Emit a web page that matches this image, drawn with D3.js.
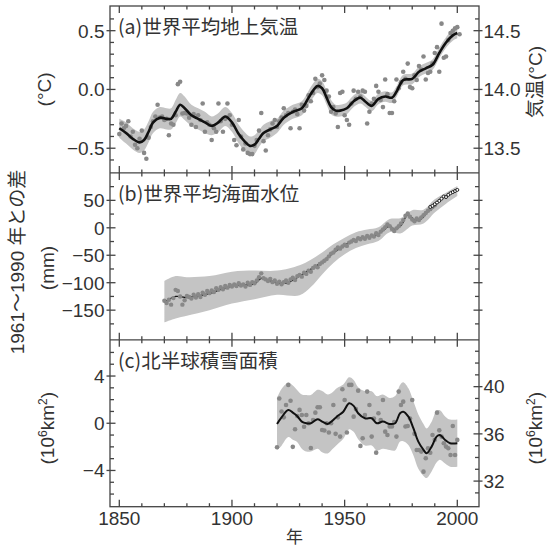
<!DOCTYPE html>
<html>
<head>
<meta charset="utf-8">
<script src="https://cdn.jsdelivr.net/npm/d3@7"></script>
<style>
  body { margin: 0; background: #fff; }
  svg { display: block; }
</style>
</head>
<body>
<div id="chart"></div>
<script>
// (a) global mean surface temperature, anomaly from 1961-1990 (°C)
const tempYears = d3.range(1850, 2002);
const tempAnom = [
  -0.38, -0.29, -0.33, -0.31, -0.27, -0.40, -0.36, -0.47, -0.50, -0.42,
  -0.35, -0.54, -0.59, -0.41, -0.32, -0.27, -0.23, -0.13, -0.24, -0.23,
  -0.26, -0.25, -0.39, -0.29, -0.30, -0.22, 0.045, 0.065, -0.205, -0.20,
  -0.205, -0.24, -0.30, -0.21, -0.32, -0.22, -0.26, -0.12, -0.36, -0.28,
  -0.30, -0.43, -0.33, -0.36, -0.12, -0.27, -0.36, -0.25, -0.12, -0.22,
  -0.30, -0.43, -0.475, -0.26, -0.40, -0.51, -0.46, -0.54, -0.55, -0.55,
  -0.48, -0.43, -0.35, -0.20, -0.44, -0.52, -0.39, -0.34, -0.29, -0.26,
  -0.32, -0.27, -0.24, -0.16, -0.22, -0.20, -0.33, -0.19, -0.17, -0.21,
  -0.33, -0.13, -0.18, -0.14, -0.05, -0.10, -0.03, 0.09, 0.02, 0.05,
  0.12, 0.08, -0.01, -0.06, -0.19, -0.15, -0.205, -0.32, -0.03, -0.02,
  -0.22, -0.26, -0.30, -0.12, -0.01, -0.08, -0.02, -0.06, -0.01, -0.02,
  -0.29, -0.19, -0.12, -0.08, 0.03, -0.02, -0.09, -0.15, 0.085, -0.04,
  -0.20, -0.20, -0.10, 0.085, 0.01, 0.06, 0.15, 0.09, 0.22, 0.02,
  0.01, 0.12, 0.08, 0.20, 0.17, 0.28, 0.085, 0.14, 0.15, 0.22,
  0.31, 0.36, 0.15, 0.56, 0.27, 0.28, 0.42, 0.48, 0.50, 0.52,
  0.53, 0.47
];
const tempSmoothYears = [1850, 1853, 1856, 1859, 1861, 1863, 1865, 1868, 1871, 1873,
  1875, 1877, 1879, 1882, 1885, 1888, 1891, 1894, 1897, 1900,
  1903, 1906, 1908, 1910, 1912, 1914, 1917, 1920, 1923, 1927,
  1931, 1934, 1936, 1938, 1940, 1942, 1944, 1946, 1948, 1951,
  1954, 1957, 1959, 1962, 1965, 1968, 1971, 1973, 1976, 1980,
  1983, 1986, 1989, 1992, 1995, 1998, 2000];
const tempSmooth = [-0.33, -0.37, -0.42, -0.45, -0.43, -0.36, -0.28, -0.24, -0.25, -0.25,
  -0.19, -0.13, -0.16, -0.22, -0.25, -0.28, -0.31, -0.28, -0.23, -0.28,
  -0.38, -0.45, -0.48, -0.47, -0.42, -0.37, -0.34, -0.31, -0.24, -0.19,
  -0.16, -0.07, -0.01, 0.03, 0.01, -0.07, -0.15, -0.18, -0.18, -0.16,
  -0.10, -0.07, -0.10, -0.14, -0.08, -0.06, -0.07, -0.02, 0.08, 0.09,
  0.15, 0.18, 0.21, 0.31, 0.40, 0.46, 0.48];
const tempUnc = [0.08, 0.09, 0.09, 0.09, 0.09, 0.09, 0.09, 0.09, 0.09, 0.09,
  0.10, 0.10, 0.10, 0.09, 0.09, 0.09, 0.08, 0.08, 0.08, 0.08,
  0.08, 0.08, 0.08, 0.08, 0.07, 0.07, 0.07, 0.06, 0.06, 0.06,
  0.06, 0.06, 0.06, 0.06, 0.06, 0.06, 0.06, 0.05, 0.05, 0.05,
  0.05, 0.05, 0.045, 0.045, 0.045, 0.045, 0.045, 0.045, 0.045, 0.045,
  0.045, 0.045, 0.045, 0.045, 0.045, 0.045, 0.045];

// (b) global mean sea level, anomaly from 1961-1990 (mm)
const seaYears = d3.range(1870, 1991);
const seaLevel = [
  -133, -137, -131, -140, -128, -113, -115, -125, -140, -132,
  -124, -126, -129, -122, -127, -121, -126, -118, -122, -115,
  -119, -114, -117, -110, -113, -108, -112, -106, -109, -104,
  -107, -103, -106, -101, -105, -103, -107, -100, -104, -99,
  -101, -96, -90, -83, -92, -94, -97, -93, -99, -96,
  -102, -98, -103, -99, -96, -100, -94, -91, -95, -88,
  -86, -89, -82, -84, -78, -80, -73, -70, -72, -66,
  -63, -60, -57, -52, -47, -45, -40, -36, -38, -34,
  -31, -33, -27, -25, -22, -24, -19, -21, -17, -20,
  -15, -18, -14, -16, -10, -13, -7, -3, 1, 6,
  3, -2, -6, -1, 3, 8, 14, 22, 26, 20,
  15, 12, 17, 14, 19, 23, 27, 31, 34, 38,
  41
];
const seaSmoothYears = [1870, 1875, 1880, 1885, 1890, 1895, 1900, 1905, 1910, 1913,
  1916, 1920, 1924, 1928, 1932, 1936, 1940, 1944, 1948, 1952,
  1956, 1960, 1964, 1968, 1970, 1972, 1975, 1978, 1981, 1984,
  1987, 1990];
const seaSmooth = [-136, -125, -127, -124, -120, -112, -106, -104, -102, -92,
  -95, -100, -101, -93, -83, -73, -63, -49, -37, -27,
  -20, -17, -13, -2, 4, -3, 4, 24, 15, 16,
  30, 42];
const satYears = [1988, 1989, 1990, 1991, 1992, 1993, 1994, 1995, 1996, 1997, 1998, 1999, 2000];
const satLevel = [38, 40, 43, 46, 49, 53, 57, 56, 60, 63, 65, 67, 69];
const seaBandYears = [1870, 1875, 1880, 1890, 1900, 1910, 1920, 1930, 1935, 1940,
  1945, 1950, 1955, 1960, 1965, 1970, 1975, 1980, 1985, 1990, 1995, 2000];
const seaBandHigh = [-97, -88, -90, -88, -80, -78, -78, -68, -58, -45,
  -30, -18, -8, -3, 1, 16, 18, 32, 33, 52, 64, 76];
const seaBandLow = [-172, -165, -160, -150, -138, -130, -122, -123, -108, -85,
  -64, -48, -37, -30, -24, -8, -10, 4, 8, 28, 44, 58];

// (c) northern hemisphere snow cover, anomaly (10^6 km^2)
const snowYears = d3.range(1920, 2001);
const snowAnom = [
  -2.03, 2.1, 1.0, 0.5, 1.55, 3.25, 1.9, -2.0, -0.51, 0.62,
  1.13, 0.70, -0.3, 0.70, 0.0, -2.1, 0.28, 0.90, 1.36, 1.36,
  -0.57, -0.62, 0.0, -0.79, 0.0, 1.55, -0.9, 0.5, -1.13, 2.88,
  1.97, -0.79, 3.25, 3.25, 0.56, 1.2, 2.76, -1.92, -1.27, 0.7,
  2.68, 1.55, -1.13, 0.4, -2.49, 0.85, 0.28, 1.97, -0.71, -0.99,
  -0.28, -0.28, 0.1, -1.13, 2.68, 1.55, 1.83, -0.28, -0.23, 0.4,
  1.97, -0.9, -2.26, -2.26, -2.40, -4.10, -2.97, -2.12, -2.5, -0.99,
  -1.4, 0.90, -0.6, -1.13, -1.69, -1.98, -2.12, -2.69, -0.23, -2.69,
  -1.41
];
const snowSmoothYears = [1920, 1922, 1925, 1927, 1929, 1931, 1933, 1935, 1938, 1940,
  1942.5, 1944.5, 1946.5, 1949.4, 1952, 1954, 1956, 1959, 1962, 1964.3,
  1967, 1970, 1972.4, 1974.6, 1976, 1978.3, 1980.5, 1982.7, 1985, 1986.4,
  1988.6, 1990.8, 1992.3, 1994.6, 1996.8, 2000];
const snowSmooth = [-0.06, 0.5, 1.13, 0.9, 0.6, 0.14, 0.0, 0.0, 0.34, 0.14,
  -0.06, 0.2, 0.56, 0.98, 1.69, 1.47, 0.85, 0.42, 0.42, 0.0,
  0.14, -0.06, 0.0, 0.85, 0.98, 0.56, -0.42, -1.56, -2.26, -2.54,
  -1.98, -1.13, -0.99, -1.42, -1.69, -1.69];
const snowUnc = [2.2, 2.4, 2.3, 2.3, 2.2, 2.3, 2.4, 2.4, 2.5, 2.6,
  2.5, 2.4, 2.4, 2.3, 2.2, 2.2, 2.2, 2.3, 2.3, 2.3,
  2.3, 2.2, 2.3, 2.4, 2.5, 2.4, 2.3, 2.3, 2.2, 2.1,
  2.1, 2.2, 2.1, 2.0, 2.0, 2.0];

// tick labels
const tempLeftLabels = [-0.5, 0.0, 0.5];
const tempRightLabels = [13.5, 14.0, 14.5];
const seaLabels = [-150, -100, -50, 0, 50];
const snowLeftLabels = [-4, 0, 4];
const snowRightLabels = [32, 36, 40];
const yearLabels = [1850, 1900, 1950, 2000];
const tempAbsOffset = 14.0;
const snowAbsOffset = 36.9;

const width = 552, height = 549;
const frame = { left: 110, right: 479, top: 6, bottom: 506.7 };
const panelH = (frame.bottom - frame.top) / 3;
const tops = [0, 1, 2].map(i => frame.top + i * panelH);

const latin = "'Liberation Sans', Arial, 'Noto Sans CJK JP', sans-serif";
const cjk = "'Noto Sans CJK JP', sans-serif";
const textColor = '#333';
const axisColor = '#444';
const dotColor = '#888';
const bandColor = '#c4c4c4';

const x = d3.scaleLinear().domain([1850, 2000]).range([119.3, 457.3]);
const yA = d3.scaleLinear().domain([-0.71, 0.71]).range([tops[0] + panelH, tops[0]]);
const yB = d3.scaleLinear().domain([-204, 100]).range([tops[1] + panelH, tops[1]]);
const yC = d3.scaleLinear().domain([-7.07, 7.07]).range([tops[2] + panelH, tops[2]]);

const svg = d3.select('#chart')
  .append('svg')
  .attr('width', width)
  .attr('height', height);

// clip paths, one per panel
const defs = svg.append('defs');
tops.forEach((t, i) => {
  defs.append('clipPath').attr('id', 'clip' + i)
    .append('rect')
    .attr('x', frame.left).attr('y', t)
    .attr('width', frame.right - frame.left).attr('height', panelH);
});

const zip = (xs, ys) => xs.map((d, i) => [d, ys[i]]);

// ---------- (a) temperature ----------
const gA = svg.append('g').attr('clip-path', 'url(#clip0)');
const tempSmoothData = tempSmoothYears.map((d, i) => ({ yr: d, v: tempSmooth[i], u: tempUnc[i] }));

gA.append('path')
  .datum(tempSmoothData)
  .attr('fill', bandColor)
  .attr('d', d3.area()
    .curve(d3.curveCatmullRom)
    .x(d => x(d.yr))
    .y0(d => yA(d.v - d.u))
    .y1(d => yA(d.v + d.u)));

gA.selectAll('circle')
  .data(zip(tempYears, tempAnom))
  .join('circle')
  .attr('cx', d => x(d[0]))
  .attr('cy', d => yA(d[1]))
  .attr('r', 2.3)
  .attr('fill', dotColor);

gA.append('path')
  .datum(tempSmoothData)
  .attr('fill', 'none')
  .attr('stroke', '#111')
  .attr('stroke-width', 2.6)
  .attr('d', d3.line().curve(d3.curveCatmullRom).x(d => x(d.yr)).y(d => yA(d.v)));

// ---------- (b) sea level ----------
const gB = svg.append('g').attr('clip-path', 'url(#clip1)');

gB.append('path')
  .datum(seaBandYears.map((d, i) => ({ yr: d, lo: seaBandLow[i], hi: seaBandHigh[i] })))
  .attr('fill', bandColor)
  .attr('d', d3.area()
    .curve(d3.curveCatmullRom)
    .x(d => x(d.yr))
    .y0(d => yB(d.lo))
    .y1(d => yB(d.hi)));

gB.append('path')
  .datum(zip(seaSmoothYears, seaSmooth))
  .attr('fill', 'none')
  .attr('stroke', '#111')
  .attr('stroke-width', 1.3)
  .attr('d', d3.line().curve(d3.curveCatmullRom).x(d => x(d[0])).y(d => yB(d[1])));

gB.selectAll('circle.tg')
  .data(zip(seaYears, seaLevel))
  .join('circle')
  .attr('class', 'tg')
  .attr('cx', d => x(d[0]))
  .attr('cy', d => yB(d[1]))
  .attr('r', 2.2)
  .attr('fill', dotColor);

gB.selectAll('circle.sat')
  .data(zip(satYears, satLevel))
  .join('circle')
  .attr('class', 'sat')
  .attr('cx', d => x(d[0]))
  .attr('cy', d => yB(d[1]))
  .attr('r', 1.5)
  .attr('fill', '#fff')
  .attr('stroke', '#111')
  .attr('stroke-width', 0.9);

// ---------- (c) snow cover ----------
const gC = svg.append('g').attr('clip-path', 'url(#clip2)');
const snowSmoothData = snowSmoothYears.map((d, i) => ({ yr: d, v: snowSmooth[i], u: snowUnc[i] }));

gC.append('path')
  .datum(snowSmoothData)
  .attr('fill', bandColor)
  .attr('d', d3.area()
    .curve(d3.curveCatmullRom)
    .x(d => x(d.yr))
    .y0(d => yC(d.v - d.u))
    .y1(d => yC(d.v + d.u)));

gC.selectAll('circle')
  .data(zip(snowYears, snowAnom))
  .join('circle')
  .attr('cx', d => x(d[0]))
  .attr('cy', d => yC(d[1]))
  .attr('r', 2.3)
  .attr('fill', dotColor);

gC.append('path')
  .datum(snowSmoothData)
  .attr('fill', 'none')
  .attr('stroke', '#111')
  .attr('stroke-width', 2)
  .attr('d', d3.line().curve(d3.curveCatmullRom).x(d => x(d.yr)).y(d => yC(d.v)));

// ---------- frame and ticks ----------
const axes = svg.append('g')
  .attr('stroke', axisColor)
  .attr('stroke-width', 1.3)
  .attr('fill', 'none');

axes.append('rect')
  .attr('x', frame.left).attr('y', frame.top)
  .attr('width', frame.right - frame.left)
  .attr('height', frame.bottom - frame.top);
[tops[1], tops[2]].forEach(t => {
  axes.append('line')
    .attr('x1', frame.left).attr('x2', frame.right)
    .attr('y1', t).attr('y2', t);
});

// year ticks on top and bottom of every panel
const yearTicks = d3.range(1850, 2001, 10);
tops.forEach(t => {
  yearTicks.forEach(yr => {
    const len = yr % 50 === 0 ? 7 : 3.5;
    axes.append('line').attr('x1', x(yr)).attr('x2', x(yr))
      .attr('y1', t).attr('y2', t + len);
    axes.append('line').attr('x1', x(yr)).attr('x2', x(yr))
      .attr('y1', t + panelH).attr('y2', t + panelH - len);
  });
});

// value ticks: majors cross the frame, minors point inward
function yTicks(scale, values, isMajor, side) {
  values.forEach(v => {
    const y = scale(v);
    const major = isMajor(v);
    if (side === 'left') {
      axes.append('line')
        .attr('x1', frame.left - (major ? 3.5 : 0)).attr('x2', frame.left + (major ? 5.5 : 4))
        .attr('y1', y).attr('y2', y);
    } else {
      axes.append('line')
        .attr('x1', frame.right + (major ? 3.5 : 0)).attr('x2', frame.right - (major ? 5.5 : 4))
        .attr('y1', y).attr('y2', y);
    }
  });
}
const near = (a, b) => Math.abs(a - b) < 1e-6;

const tempTicks = d3.range(-6, 7).map(i => i / 10);
yTicks(yA, tempTicks, v => tempLeftLabels.some(l => near(l, v)), 'left');
yTicks(yA, tempTicks, v => tempLeftLabels.some(l => near(l, v)), 'right');

const seaTicks = d3.range(-175, 100, 25);
yTicks(yB, seaTicks, v => seaLabels.includes(v), 'left');
yTicks(yB, seaTicks, v => seaLabels.includes(v), 'right');

yTicks(yC, d3.range(-6, 7), v => snowLeftLabels.includes(v), 'left');
const snowRightTicks = d3.range(31, 44);
yTicks(v => yC(v - snowAbsOffset), snowRightTicks, v => snowRightLabels.includes(v), 'right');

// ---------- tick labels ----------
const labels = svg.append('g')
  .attr('font-family', latin)
  .attr('font-size', 19)
  .attr('fill', textColor);

const fmtMinus = s => s.replace('-', '\u2212');

labels.selectAll('text.ta')
  .data(tempLeftLabels).join('text').attr('class', 'ta')
  .attr('x', frame.left - 5.5).attr('y', d => yA(d))
  .attr('dy', '0.36em').attr('text-anchor', 'end')
  .text(d => fmtMinus(d3.format('.1f')(d)));

labels.selectAll('text.tr')
  .data(tempRightLabels).join('text').attr('class', 'tr')
  .attr('x', frame.right + 4.5).attr('y', d => yA(d - tempAbsOffset))
  .attr('dy', '0.36em')
  .text(d => d3.format('.1f')(d));

labels.selectAll('text.sl')
  .data(seaLabels).join('text').attr('class', 'sl')
  .attr('x', frame.left - 5.5).attr('y', d => yB(d))
  .attr('dy', '0.36em').attr('text-anchor', 'end')
  .text(d => fmtMinus(String(d)));

labels.selectAll('text.cl')
  .data(snowLeftLabels).join('text').attr('class', 'cl')
  .attr('x', frame.left - 5.5).attr('y', d => yC(d))
  .attr('dy', '0.36em').attr('text-anchor', 'end')
  .text(d => fmtMinus(String(d)));

labels.selectAll('text.cr')
  .data(snowRightLabels).join('text').attr('class', 'cr')
  .attr('x', frame.right + 4.5).attr('y', d => yC(d - snowAbsOffset))
  .attr('dy', '0.36em')
  .text(d => d);

labels.selectAll('text.yr')
  .data(yearLabels).join('text').attr('class', 'yr')
  .attr('x', d => x(d)).attr('y', 525)
  .attr('text-anchor', 'middle')
  .text(d => d);

// ---------- panel titles ----------
const titles = ['(a)世界平均地上気温', '(b)世界平均海面水位', '(c)北半球積雪面積'];
svg.selectAll('text.title')
  .data(titles).join('text').attr('class', 'title')
  .attr('x', 118)
  .attr('y', (d, i) => tops[i] + 28)
  .attr('font-family', cjk)
  .attr('font-size', 19.5)
  .attr('fill', textColor)
  .text(d => d);

// ---------- axis titles ----------
function vLabel(cx, cy, build) {
  const t = svg.append('text')
    .attr('transform', `translate(${cx},${cy}) rotate(-90)`)
    .attr('text-anchor', 'middle')
    .attr('dy', '0.36em')
    .attr('font-family', latin)
    .attr('font-size', 19)
    .attr('fill', textColor);
  build(t);
  return t;
}
const kmLabel = t => {
  t.append('tspan').text('(10');
  t.append('tspan').attr('dy', -7).attr('font-size', 12).text('6');
  t.append('tspan').attr('dy', 7).text('km');
  t.append('tspan').attr('dy', -7).attr('font-size', 12).text('2');
  t.append('tspan').attr('dy', 7).text(')');
};

vLabel(44, yA(0), t => t.text('(°C)'));
vLabel(17, 262, t => t.text('1961～1990 年との差'));
vLabel(47, 268, t => t.text('(mm)'));
vLabel(47, yC(0) + 5, kmLabel);
vLabel(535, 82, t => t.text('気温(°C)'));
vLabel(535, yC(0) + 5, kmLabel);

svg.append('text')
  .attr('x', (frame.left + frame.right) / 2)
  .attr('y', 537)
  .attr('dy', '0.36em')
  .attr('text-anchor', 'middle')
  .attr('font-family', cjk)
  .attr('font-size', 17)
  .attr('fill', textColor)
  .text('年');
</script>
</body>
</html>
